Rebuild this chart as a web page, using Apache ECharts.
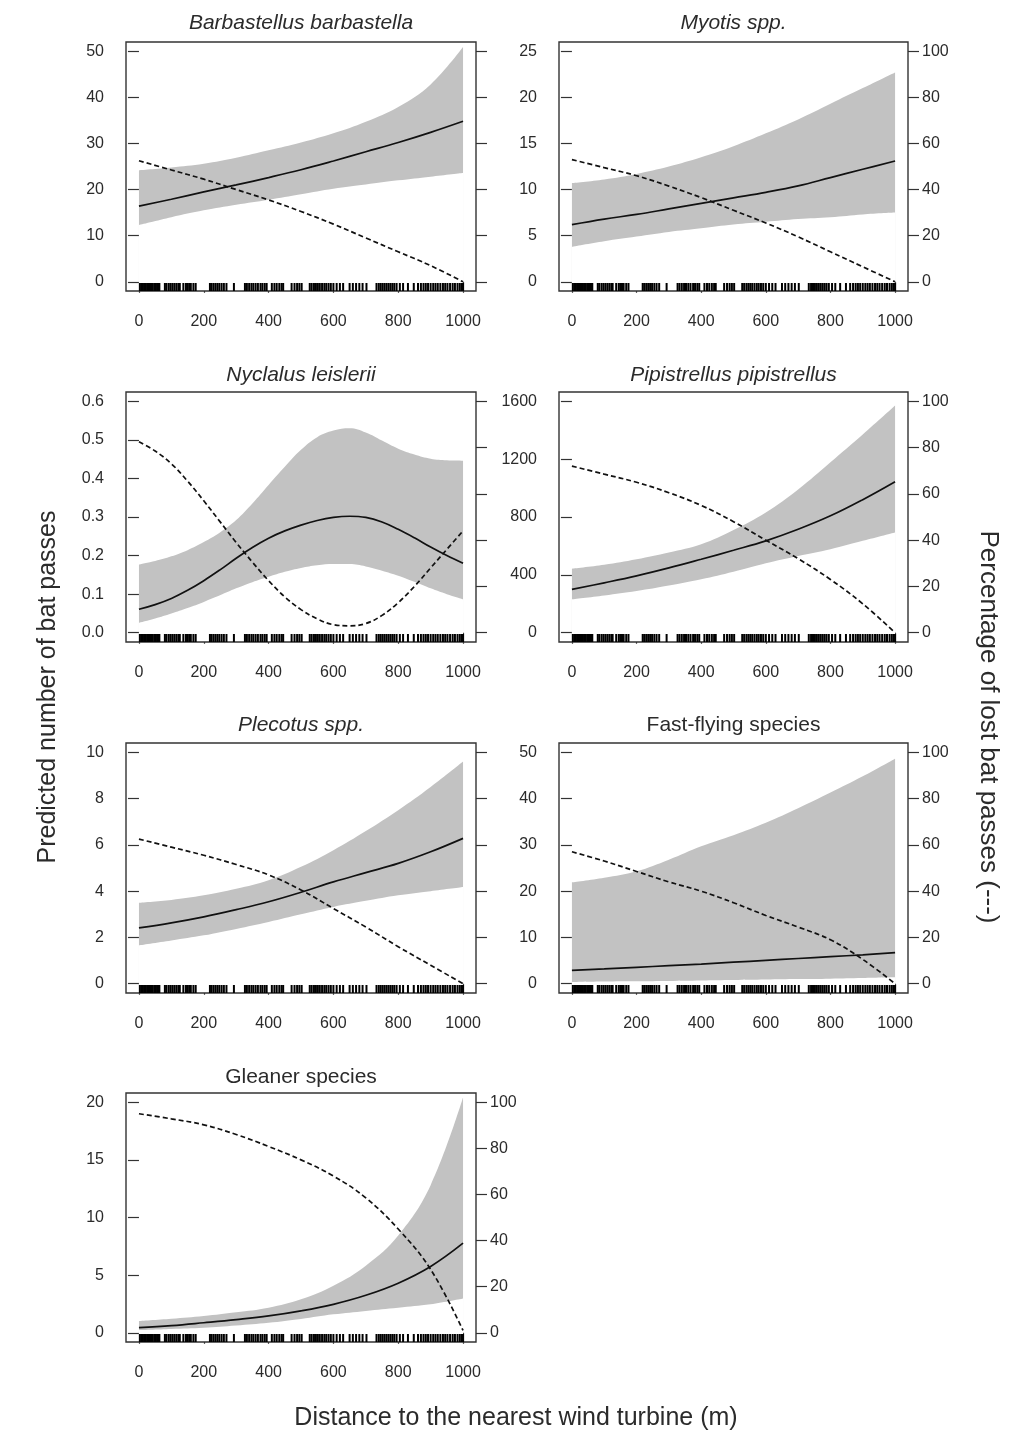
<!DOCTYPE html>
<html>
<head>
<meta charset="utf-8">
<script src="https://cdn.jsdelivr.net/npm/echarts@6/dist/echarts.min.js"></script>
<style>
html,body{margin:0;padding:0;background:#fff;}
#chart{width:1020px;height:1437px;}
</style>
</head>
<body>
<div id="chart"></div>
<script>
// ---------- DATA ----------
const distance = [0, 100, 200, 300, 400, 500, 600, 700, 800, 900, 1000];
const distanceFine = [0, 50, 100, 150, 200, 250, 300, 350, 400, 450, 500, 550, 600, 650, 700, 750, 800, 850, 900, 950, 1000];
const xTicks = [0, 200, 400, 600, 800, 1000];
const pctTicks = [0, 20, 40, 60, 80, 100];

const panelTitles = ['Barbastellus barbastella', 'Myotis spp.', 'Nyclalus leislerii', 'Pipistrellus pipistrellus', 'Plecotus spp.', 'Fast-flying species', 'Gleaner species'];

const barbFit   = [16.4, 17.9, 19.5, 21.0, 22.6, 24.3, 26.2, 28.2, 30.2, 32.4, 34.8];
const barbUpper = [24.2, 24.8, 25.6, 26.9, 28.5, 30.2, 32.2, 34.7, 37.9, 42.8, 50.9];
const barbLower = [12.3, 14.0, 15.5, 16.7, 17.8, 19.0, 20.2, 21.1, 22.0, 22.8, 23.6];
const barbPct   = [52.5, 48.5, 44.5, 40.0, 35.5, 30.5, 25.0, 19.0, 13.0, 7.0, 0];
const barbTicks = [0, 10, 20, 30, 40, 50];

const myoFit   = [6.2, 6.8, 7.3, 7.9, 8.5, 9.1, 9.7, 10.4, 11.3, 12.2, 13.1];
const myoUpper = [10.7, 11.1, 11.7, 12.5, 13.5, 14.7, 16.1, 17.6, 19.3, 21.0, 22.7];
const myoLower = [3.8, 4.4, 4.9, 5.4, 5.8, 6.2, 6.5, 6.8, 7.0, 7.3, 7.5];
const myoPct   = [53.0, 49.5, 46.0, 41.5, 36.5, 31.0, 25.5, 19.5, 13.0, 6.5, 0];
const myoTicks = [0, 5, 10, 15, 20, 25];

const nycFit   = [0.061, 0.073, 0.089, 0.110, 0.135, 0.163, 0.193, 0.221, 0.245, 0.264, 0.279, 0.291, 0.299, 0.302, 0.299, 0.287, 0.268, 0.246, 0.222, 0.200, 0.180];
const nycUpper = [0.177, 0.186, 0.198, 0.214, 0.235, 0.260, 0.292, 0.335, 0.383, 0.430, 0.474, 0.507, 0.524, 0.530, 0.519, 0.498, 0.477, 0.462, 0.451, 0.447, 0.446];
const nycLower = [0.026, 0.037, 0.050, 0.064, 0.080, 0.097, 0.115, 0.131, 0.145, 0.158, 0.168, 0.175, 0.178, 0.178, 0.172, 0.161, 0.148, 0.132, 0.115, 0.100, 0.087];
const nycPct   = [82.5, 78.5, 73.0, 65.5, 57.0, 48.0, 39.0, 30.5, 22.5, 15.5, 10.0, 6.0, 3.5, 3.0, 4.0, 7.5, 13.0, 20.0, 28.0, 36.0, 44.0];
const nycTicks = [0, 0.1, 0.2, 0.3, 0.4, 0.5, 0.6];

const pipFit   = [300, 345, 393, 448, 508, 570, 635, 715, 808, 920, 1044];
const pipUpper = [443, 470, 508, 555, 612, 710, 831, 990, 1178, 1370, 1570];
const pipLower = [231, 258, 289, 327, 370, 422, 480, 530, 577, 635, 693];
const pipPct   = [72.0, 68.5, 65.0, 60.5, 55.0, 48.0, 40.0, 32.0, 23.0, 12.5, 0];
const pipTicks = [0, 400, 800, 1200, 1600];

const pleFit   = [2.41, 2.63, 2.89, 3.20, 3.54, 3.95, 4.40, 4.80, 5.20, 5.70, 6.28];
const pleUpper = [3.50, 3.62, 3.82, 4.10, 4.47, 5.05, 5.77, 6.60, 7.50, 8.50, 9.60];
const pleLower = [1.66, 1.87, 2.09, 2.37, 2.67, 3.00, 3.32, 3.58, 3.82, 4.00, 4.18];
const plePct   = [62.5, 59.0, 55.5, 51.5, 47.0, 40.5, 32.5, 24.5, 16.0, 8.0, 0];
const pleTicks = [0, 2, 4, 6, 8, 10];

const fastFit   = [2.9, 3.2, 3.55, 3.9, 4.25, 4.65, 5.05, 5.45, 5.85, 6.25, 6.7];
const fastUpper = [21.9, 22.9, 24.3, 26.8, 29.7, 32.1, 34.8, 37.9, 41.3, 44.8, 48.6];
const fastLower = [0.4, 0.5, 0.55, 0.6, 0.7, 0.8, 0.9, 1.0, 1.1, 1.25, 1.4];
const fastPct   = [57.0, 53.0, 48.5, 44.0, 40.0, 35.0, 29.5, 24.5, 19.0, 10.5, 0];
const fastTicks = [0, 10, 20, 30, 40, 50];

const gleFit   = [0.44, 0.62, 0.87, 1.14, 1.46, 1.90, 2.47, 3.25, 4.30, 5.75, 7.77];
const gleUpper = [1.02, 1.22, 1.46, 1.78, 2.18, 2.91, 4.08, 5.82, 8.44, 12.8, 20.4];
const gleLower = [0.23, 0.33, 0.44, 0.63, 0.87, 1.20, 1.60, 1.90, 2.18, 2.47, 2.97];
const glePct   = [95.0, 92.8, 90.2, 86.0, 80.8, 75.0, 68.0, 58.5, 45.0, 27.5, 1.0];
const gleTicks = [0, 5, 10, 15, 20];

const rugDistances = [3, 8, 12, 16, 20, 25, 30, 34, 38, 42, 47, 52, 56, 60, 63,
  80, 85, 92, 98, 104, 110, 116, 122, 126, 137, 145, 150, 155, 160, 168, 175,
  219, 224, 230, 236, 242, 248, 255, 262, 270, 293,
  327, 333, 340, 347, 353, 360, 367, 375, 381, 388, 394,
  410, 418, 425, 433, 440, 445, 471, 480, 488, 495, 502,
  527, 533, 540, 546, 552, 558, 565, 572, 578, 585, 592, 600, 610, 620, 630,
  650, 660, 670, 680, 690, 702,
  733, 740, 746, 752, 758, 764, 770, 776, 782, 788, 795, 805, 815, 830, 848,
  861, 870, 878, 885, 892, 900, 908, 915, 922, 930, 938, 945, 952, 960, 968, 975, 983, 990, 996, 1000];

// ---------- LAYOUT ----------
const panels = [
  {title: panelTitles[0], italic: true, xs: distance, fit: barbFit, up: barbUpper, lo: barbLower, pct: barbPct, ticks: barbTicks, rightLabels: false, dec: 0},
  {title: panelTitles[1], italic: true, xs: distance, fit: myoFit, up: myoUpper, lo: myoLower, pct: myoPct, ticks: myoTicks, rightLabels: true, dec: 0},
  {title: panelTitles[2], italic: true, xs: distanceFine, fit: nycFit, up: nycUpper, lo: nycLower, pct: nycPct, ticks: nycTicks, rightLabels: false, dec: 1},
  {title: panelTitles[3], italic: true, xs: distance, fit: pipFit, up: pipUpper, lo: pipLower, pct: pipPct, ticks: pipTicks, rightLabels: true, dec: 0},
  {title: panelTitles[4], italic: true, xs: distance, fit: pleFit, up: pleUpper, lo: pleLower, pct: plePct, ticks: pleTicks, rightLabels: false, dec: 0},
  {title: panelTitles[5], italic: false, xs: distance, fit: fastFit, up: fastUpper, lo: fastLower, pct: fastPct, ticks: fastTicks, rightLabels: true, dec: 0},
  {title: panelTitles[6], italic: false, xs: distance, fit: gleFit, up: gleUpper, lo: gleLower, pct: glePct, ticks: gleTicks, rightLabels: true, dec: 0}
];
const colLeft = [126, 559], colWidth = [350, 349];
const rowTop = [42, 392, 743, 1093], rowHeight = [249, 250, 250, 249];
const titleY = [23, 375, 725, 1077];

const FONT = '"Liberation Sans", Arial, Helvetica, sans-serif';
const TXT = '#2b2b2b';
const LINE = '#111';
const BAND = '#c2c2c2';
const SMOOTH = 0.4;

const grids = [], xAxes = [], yAxes = [], series = [], graphics = [];

panels.forEach((p, i) => {
  const col = i % 2, row = Math.floor(i / 2);
  const g = {left: colLeft[col], top: rowTop[row], width: colWidth[col], height: rowHeight[row],
    show: true, z: 3, borderColor: '#333', borderWidth: 1.4, backgroundColor: 'transparent', containLabel: false};
  grids.push(g);
  xAxes.push({
    type: 'value', gridIndex: i, min: -40, max: 1040,
    axisLine: {show: false},
    splitLine: {show: false},
    axisTick: {show: true, inside: false, length: 11, customValues: xTicks, lineStyle: {color: '#333', width: 1.2}},
    axisLabel: {show: true, customValues: xTicks, margin: 23, fontSize: 16, color: TXT, fontFamily: FONT,
      formatter: v => String(v)}
  });
  const M = p.ticks[p.ticks.length - 1];
  yAxes.push({
    type: 'value', gridIndex: i, position: 'left', min: -0.04 * M, max: 1.04 * M,
    axisLine: {show: false}, splitLine: {show: false},
    axisTick: {show: true, inside: false, length: 11, customValues: p.ticks, lineStyle: {color: '#333', width: 1.2}},
    axisLabel: {show: true, customValues: p.ticks, margin: 22, fontSize: 16, color: TXT, fontFamily: FONT,
      formatter: v => Number(v).toFixed(p.dec)}
  });
  yAxes.push({
    type: 'value', gridIndex: i, position: 'right', min: -4, max: 104,
    axisLine: {show: false}, splitLine: {show: false},
    axisTick: {show: true, inside: false, length: 11, customValues: pctTicks, lineStyle: {color: '#333', width: 1.2}},
    axisLabel: {show: p.rightLabels, customValues: pctTicks, margin: 14, fontSize: 16, color: TXT, fontFamily: FONT,
      formatter: v => String(v)}
  });
  const yL = 2 * i, yR = 2 * i + 1;
  // confidence band: upper filled grey, lower filled white over it
  series.push({
    type: 'line', xAxisIndex: i, yAxisIndex: yL, smooth: SMOOTH,
    symbol: 'none', lineStyle: {width: 0, color: BAND}, areaStyle: {color: BAND, opacity: 1, origin: 'start'}, silent: true, z: 1,
    data: p.xs.map((d, k) => [d, p.up[k]])
  });
  series.push({
    type: 'line', xAxisIndex: i, yAxisIndex: yL, smooth: SMOOTH,
    symbol: 'none', lineStyle: {width: 0, color: '#fff'}, areaStyle: {color: '#fff', opacity: 1, origin: 'start'}, silent: true, z: 2,
    data: p.xs.map((d, k) => [d, p.lo[k]])
  });
  series.push({
    type: 'line', xAxisIndex: i, yAxisIndex: yL, smooth: SMOOTH, symbol: 'none', z: 4,
    lineStyle: {color: LINE, width: 1.7}, data: p.xs.map((d, k) => [d, p.fit[k]])
  });
  series.push({
    type: 'line', xAxisIndex: i, yAxisIndex: yR, smooth: SMOOTH, symbol: 'none', z: 4,
    lineStyle: {color: LINE, width: 1.7, type: [5, 3]}, data: p.xs.map((d, k) => [d, p.pct[k]])
  });
  series.push({
    type: 'custom', xAxisIndex: i, yAxisIndex: yL, z: 5, silent: true,
    data: rugDistances.map(d => [d, 0]),
    renderItem: (params, api) => {
      const x = api.coord([api.value(0), 0])[0];
      const cs = params.coordSys;
      const yb = cs.y + cs.height;
      return {type: 'line', shape: {x1: x, y1: yb, x2: x, y2: yb - 8}, style: {stroke: '#000', lineWidth: 2}};
    }
  });
  graphics.push({
    type: 'text', x: g.left + g.width / 2, y: titleY[row],
    style: {text: p.title, fill: TXT, font: (p.italic ? 'italic ' : '') + '21px ' + FONT, textAlign: 'center', textVerticalAlign: 'middle'}
  });
});

graphics.push({type: 'text', x: 48, y: 687, rotation: Math.PI / 2,
  style: {text: 'Predicted number of bat passes', fill: TXT, font: '25px ' + FONT, textAlign: 'center', textVerticalAlign: 'middle'}});
graphics.push({type: 'text', x: 988, y: 727, rotation: -Math.PI / 2,
  style: {text: 'Percentage of lost bat passes (---)', fill: TXT, font: '26px ' + FONT, textAlign: 'center', textVerticalAlign: 'middle'}});
graphics.push({type: 'text', x: 516, y: 1418,
  style: {text: 'Distance to the nearest wind turbine (m)', fill: TXT, font: '25px ' + FONT, textAlign: 'center', textVerticalAlign: 'middle'}});

const chart = echarts.init(document.getElementById('chart'), null, {renderer: 'canvas'});
chart.setOption({
  animation: false,
  backgroundColor: '#fff',
  grid: grids, xAxis: xAxes, yAxis: yAxes, series: series, graphic: graphics
});
</script>
</body>
</html>
